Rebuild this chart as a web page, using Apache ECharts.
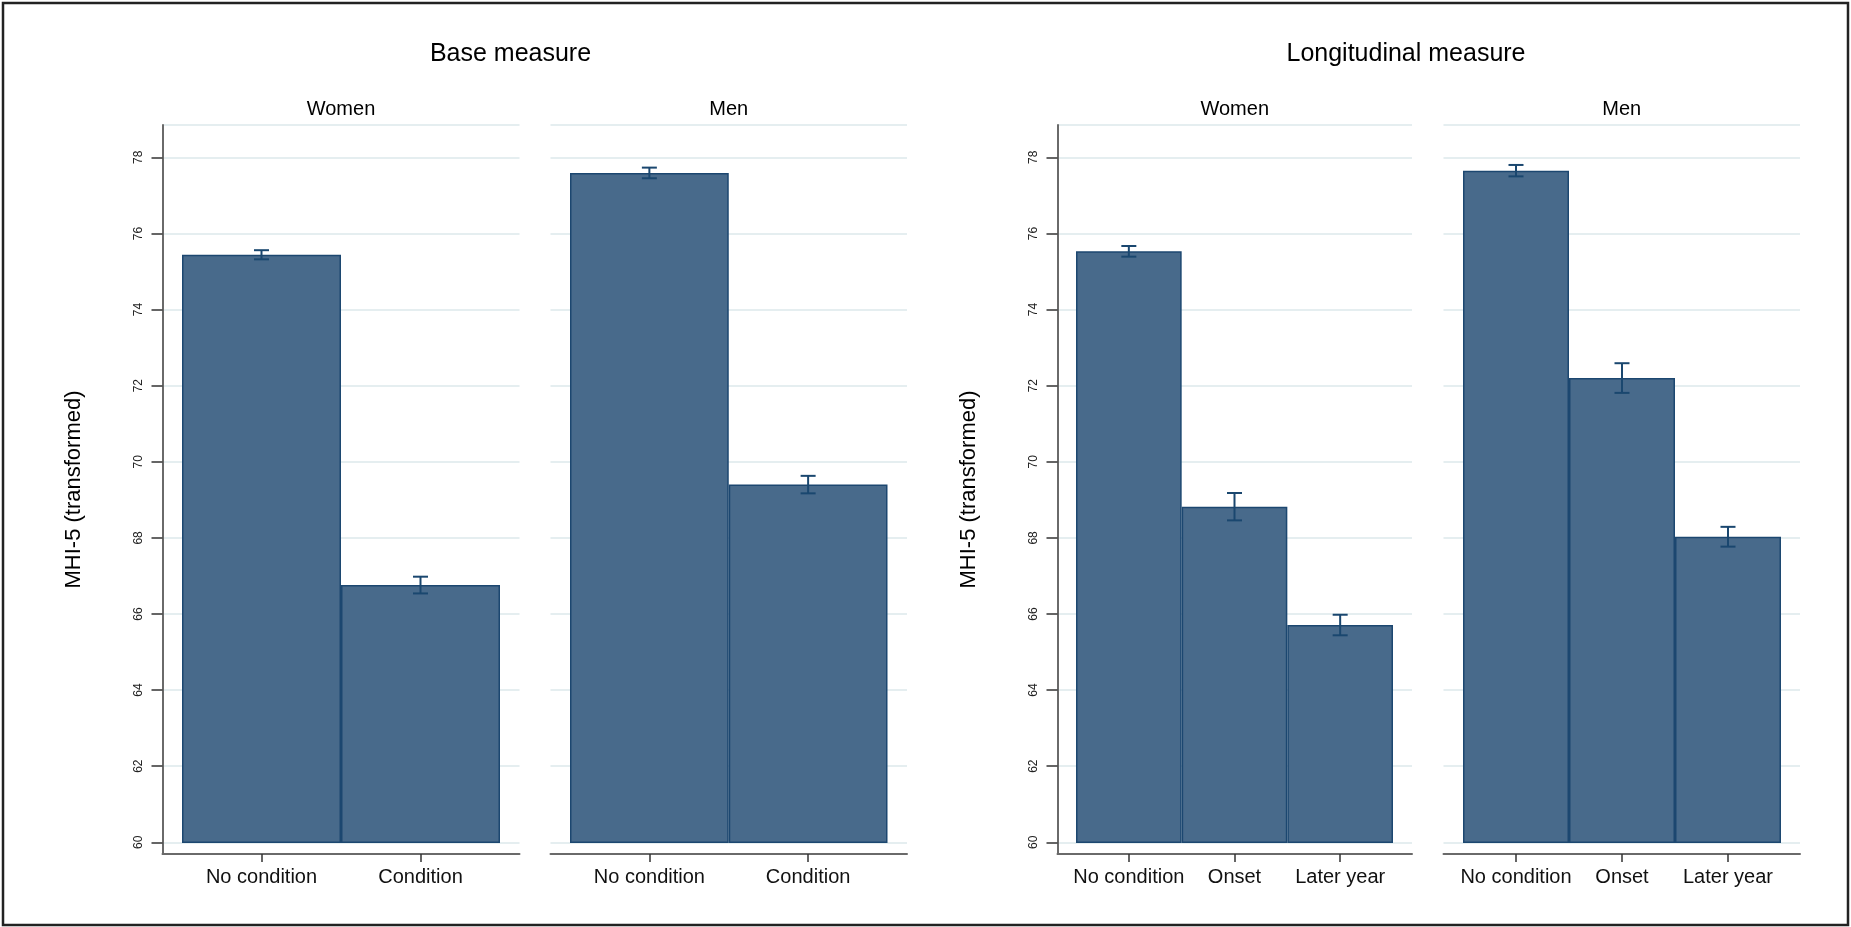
<!DOCTYPE html>
<html>
<head>
<meta charset="utf-8">
<script src="https://cdn.jsdelivr.net/npm/echarts@6/dist/echarts.min.js"></script>
<style>
html,body{margin:0;padding:0;background:#fff;}
#chart{width:1851px;height:927px;}
</style>
</head>
<body>
<div id="chart"></div>
<script>
// ---- data ----
const groupTitles = ['Base measure', 'Longitudinal measure'];
const panelTitles = ['Women', 'Men', 'Women', 'Men'];
const baseCategories = ['No condition', 'Condition'];
const longCategories = ['No condition', 'Onset', 'Later year'];
const baseWomen = [75.44, 66.76];
const baseWomenErr = [0.12, 0.22];
const baseMen = [77.59, 69.40];
const baseMenErr = [0.14, 0.23];
const longWomen = [75.53, 68.82, 65.71];
const longWomenErr = [0.14, 0.36, 0.27];
const longMen = [77.65, 72.20, 68.03];
const longMenErr = [0.15, 0.39, 0.26];
const yMin = 60, yMax = 78.85, yStep = 2;
const yTitle = 'MHI-5 (transformed)';

// ---- layout / style ----
const FONT = '"Liberation Sans", Arial, Helvetica, sans-serif';
const frameTop = 125, axisLineY = 854, baseY = 842.3;
const panels = [
  {cats: baseCategories, vals: baseWomen, errs: baseWomenErr, fl: 162.5, fr: 519.5, bl: 182, br: 500, yAxis: true},
  {cats: baseCategories, vals: baseMen, errs: baseMenErr, fl: 550.5, fr: 907, bl: 570, br: 887.5, yAxis: false},
  {cats: longCategories, vals: longWomen, errs: longWomenErr, fl: 1057.5, fr: 1412, bl: 1076, br: 1393, yAxis: true},
  {cats: longCategories, vals: longMen, errs: longMenErr, fl: 1443.5, fr: 1800, bl: 1463, br: 1781, yAxis: false}
];
const barFill = '#486a8b', barEdge = '#1c4770', errColor = '#1a476f';
const gridColor = '#e5eef0', axisColor = '#6a6a6a', tickColor = '#333';

const grid = [], xAxis = [], yAxis = [], series = [];
panels.forEach((p, i) => {
  const gA = grid.length;
  // frame grid (axis lines)
  grid.push({left: p.fl, top: frameTop, width: p.fr - p.fl, height: axisLineY - frameTop, outerBoundsMode: 'none'});
  xAxis.push({gridIndex: gA, type: 'value', min: 0, max: 1, axisLine: {show: true, onZero: false, lineStyle: {color: axisColor, width: 2}},
    axisTick: {show: false}, axisLabel: {show: false}, splitLine: {show: false}});
  yAxis.push({gridIndex: gA, type: 'value', min: 0, max: 1, show: p.yAxis,
    axisLine: {show: p.yAxis, lineStyle: {color: axisColor, width: 2}},
    axisTick: {show: false}, axisLabel: {show: false}, splitLine: {show: false},
    name: p.yAxis ? yTitle : '', nameLocation: 'middle', nameGap: 78, nameRotate: 90,
    nameTextStyle: {fontFamily: FONT, fontSize: 22, color: '#000'}});
  // tick / gridline grid
  const gB = grid.length;
  grid.push({left: p.fl, top: frameTop, width: p.fr - p.fl, height: baseY - frameTop, outerBoundsMode: 'none'});
  xAxis.push({gridIndex: gB, type: 'value', min: 0, max: 1, show: false});
  yAxis.push({gridIndex: gB, type: 'value', min: yMin, max: yMax, interval: yStep,
    axisLine: {show: false},
    axisTick: {show: p.yAxis, length: 11, lineStyle: {color: tickColor, width: 1.5}},
    axisLabel: {show: p.yAxis, rotate: 90, margin: 18, fontFamily: FONT, fontSize: 12, color: '#222',
      showMaxLabel: false},
    splitLine: {show: true, lineStyle: {color: gridColor, width: 2}}});
  // bar grid
  const gC = grid.length;
  grid.push({left: p.bl, top: frameTop, width: p.br - p.bl, height: baseY - frameTop, outerBoundsMode: 'none'});
  xAxis.push({gridIndex: gC, type: 'category', data: p.cats, boundaryGap: true, offset: axisLineY - baseY,
    axisLine: {show: false},
    axisTick: {show: true, alignWithLabel: true, length: 8, lineStyle: {color: tickColor, width: 1.5}},
    axisLabel: {margin: 13, fontFamily: FONT, fontSize: 20, color: '#111', interval: 0}});
  yAxis.push({gridIndex: gC, type: 'value', min: yMin, max: yMax, show: false, splitLine: {show: false}});
  series.push({type: 'bar', xAxisIndex: gC, yAxisIndex: gC, data: p.vals, barWidth: '100%', barCategoryGap: 0,
    itemStyle: {color: barFill, borderColor: barEdge, borderWidth: 1.5}, silent: true, z: 2});
  series.push({type: 'custom', xAxisIndex: gC, yAxisIndex: gC, z: 5, silent: true,
    data: p.vals.map((v, k) => [k, v - p.errs[k], v + p.errs[k]]),
    encode: {x: 0, y: [1, 2]},
    renderItem: function (params, api) {
      const lo = api.coord([api.value(0), api.value(1)]);
      const hi = api.coord([api.value(0), api.value(2)]);
      const hw = 7.5;
      const st = {stroke: errColor, lineWidth: 2};
      return {type: 'group', children: [
        {type: 'line', shape: {x1: lo[0], y1: lo[1], x2: hi[0], y2: hi[1]}, style: st},
        {type: 'line', shape: {x1: lo[0] - hw, y1: lo[1], x2: lo[0] + hw, y2: lo[1]}, style: st},
        {type: 'line', shape: {x1: hi[0] - hw, y1: hi[1], x2: hi[0] + hw, y2: hi[1]}, style: st}
      ]};
    }});
});

const graphic = [
  {type: 'rect', shape: {x: 3, y: 3, width: 1845, height: 922}, style: {fill: 'none', stroke: '#222', lineWidth: 2.5}, z: 100},
  {type: 'text', x: 510.5, y: 54, style: {text: groupTitles[0], font: '25px ' + FONT, fill: '#000', align: 'center', verticalAlign: 'middle'}},
  {type: 'text', x: 1406, y: 54, style: {text: groupTitles[1], font: '25px ' + FONT, fill: '#000', align: 'center', verticalAlign: 'middle'}}
];
panels.forEach((p, i) => {
  graphic.push({type: 'text', x: (p.fl + p.fr) / 2, y: 109, style: {text: panelTitles[i], font: '20px ' + FONT, fill: '#000', align: 'center', verticalAlign: 'middle'}});
});

const chart = echarts.init(document.getElementById('chart'), null, {renderer: 'canvas'});
chart.setOption({animation: false, backgroundColor: '#fff', grid, xAxis, yAxis, series, graphic});
</script>
</body>
</html>
